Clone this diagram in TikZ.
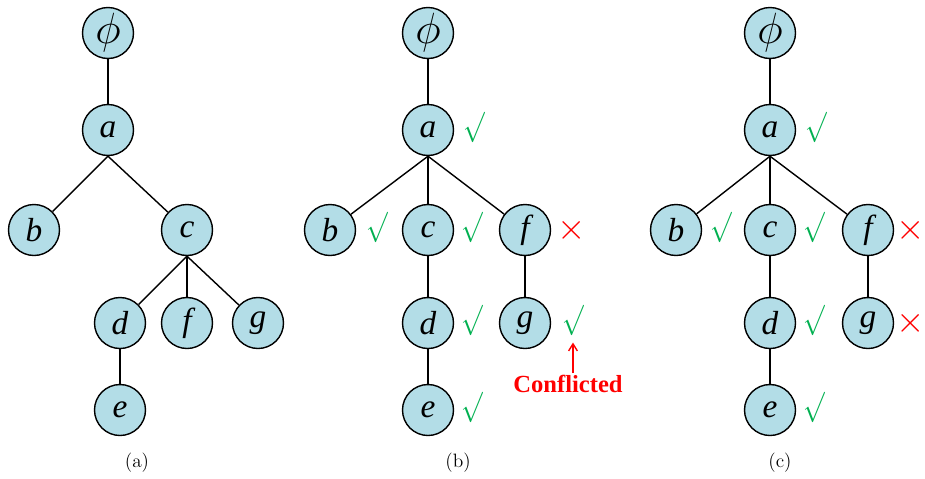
\documentclass[tikz,border=0pt]{standalone}
\usepackage{fontspec}
\usepackage{tikz}
\usetikzlibrary{positioning,arrows.meta}
\newfontfamily\tnr{Liberation Serif}
\definecolor{nodefill}{HTML}{B3DDE7}
\definecolor{okgreen} {HTML}{00B050}
\definecolor{badred}  {HTML}{FF0000}
\tikzset{
  % --- nodes
  tn/.style   = {circle, draw=black, fill=nodefill, line width=0.8pt,
                 minimum size=1.02cm, inner sep=0pt,
                 font=\fontsize{19}{20}\selectfont\tnr\itshape},
  root/.style = {tn, font=\fontsize{27}{27}\selectfont},
  ok/.style   = {text=okgreen, inner sep=0pt, xscale=0.85,
                 font=\fontsize{18}{18}\selectfont},
  bad/.style  = {text=badred, inner sep=0pt, font=\fontsize{22}{22}\selectfont},
  subcap/.style = {font=\fontsize{11}{12}\selectfont},
  % --- edges
  e/.style    = {line width=0.8pt, draw=black},
  warn/.style = {-{Straight Barb[length=4pt,width=5pt]}, line width=0.8pt, draw=badred},
}
\begin{document}
\begin{tikzpicture}[x=0.02cm,y=-0.02cm]
  \useasboundingbox (0,0) rectangle (925,478);
  % (a)
  \node[root] (p1) at (108,33)  {$\phi$};
  \node[tn] (a1) at (108,130) {a};
  \node[tn] (b1) at (34,230)  {b};
  \node[tn] (c1) at (187,230) {c};
  \node[tn] (d1) at (120,323) {d};
  \node[tn] (f1) at (187,323) {f};
  \node[tn] (g1) at (258,323) {g};
  \node[tn] (e1) at (120,410) {e};
  \draw[e] (p1) -- (a1);
  \draw[e] (a1.south) -- (b1); \draw[e] (a1.south) -- (c1);
  \draw[e] (c1.south) -- (d1); \draw[e] (c1.south) -- (f1); \draw[e] (c1.south) -- (g1);
  \draw[e] (d1) -- (e1);
  \node[subcap] (cap1) at (137,463) {(a)};
  % (b)
  \node[root] (p2) at (428,33)  {$\phi$};
  \node[tn] (a2) at (428,130) {a};
  \node[tn] (b2) at (330,230) {b};
  \node[tn] (c2) at (428,230) {c};
  \node[tn] (f2) at (525,230) {f};
  \node[tn] (d2) at (428,323) {d};
  \node[tn] (g2) at (525,323) {g};
  \node[tn] (e2) at (428,410) {e};
  \draw[e] (p2) -- (a2);
  \draw[e] (a2.south) -- (b2); \draw[e] (a2.south) -- (c2); \draw[e] (a2.south) -- (f2);
  \draw[e] (c2) -- (d2); \draw[e] (d2) -- (e2); \draw[e] (f2) -- (g2);
  \node[ok]  (oka2) at (474,127) {$\surd$};
  \node[ok]  (okb2) at (377,227) {$\surd$};
  \node[ok]  (okc2) at (472,227) {$\surd$};
  \node[bad] (nof2) at (572,230) {$\times$};
  \node[ok]  (okd2) at (472,320) {$\surd$};
  \node[ok]  (okg2) at (573,320) {$\surd$};
  \node[ok]  (oke2) at (472,407) {$\surd$};
  \node[font=\fontsize{14}{16}\selectfont\tnr\bfseries, text=badred, inner sep=1pt]
       (conf) at (568,384) {Conflicted};
  \draw[warn] (okg2.south |- conf.north) -- ([yshift=-4pt]okg2.south);
  \node[subcap] (cap2) at (458,463) {(b)};
  % (c)
  \node[root] (p3) at (770,33)  {$\phi$};
  \node[tn] (a3) at (770,130) {a};
  \node[tn] (b3) at (676,230) {b};
  \node[tn] (c3) at (770,230) {c};
  \node[tn] (f3) at (868,230) {f};
  \node[tn] (d3) at (770,323) {d};
  \node[tn] (g3) at (868,323) {g};
  \node[tn] (e3) at (770,410) {e};
  \draw[e] (p3) -- (a3);
  \draw[e] (a3.south) -- (b3); \draw[e] (a3.south) -- (c3); \draw[e] (a3.south) -- (f3);
  \draw[e] (c3) -- (d3); \draw[e] (d3) -- (e3); \draw[e] (f3) -- (g3);
  \node[ok]  (oka3) at (816,127) {$\surd$};
  \node[ok]  (okb3) at (721,227) {$\surd$};
  \node[ok]  (okc3) at (814,227) {$\surd$};
  \node[bad] (nof3) at (911,230) {$\times$};
  \node[ok]  (okd3) at (814,320) {$\surd$};
  \node[bad] (nog3) at (911,323) {$\times$};
  \node[ok]  (oke3) at (814,407) {$\surd$};
  \node[subcap] (cap3) at (780,463) {(c)};
\end{tikzpicture}
\end{document}
